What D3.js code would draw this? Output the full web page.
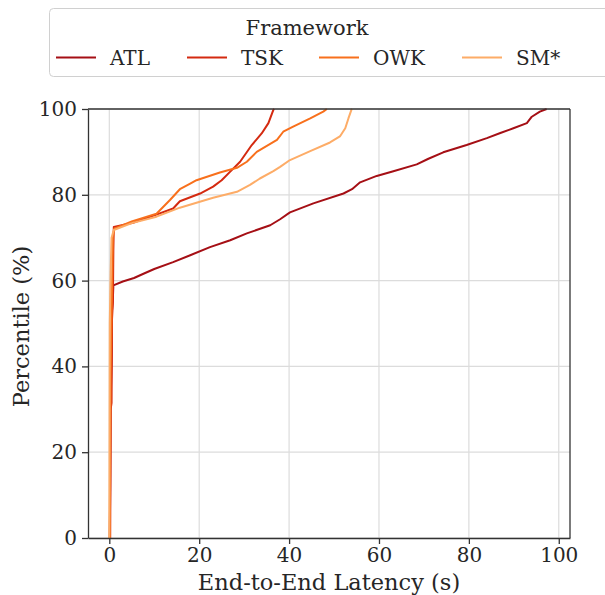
<!DOCTYPE html>
<html>
<head>
<meta charset="utf-8">
<script src="https://cdn.jsdelivr.net/npm/d3@7"></script>
<style>
  body { margin: 0; background: #fff; }
  svg text { font-family: "DejaVu Serif", serif; fill: #262626; }
</style>
</head>
<body>
<div id="chart"></div>
<script>
// frameworks and their colours
const frameworks = ["ATL", "TSK", "OWK", "SM*"];
const colors = ["#a50f15", "#d42a10", "#f8701c", "#fdac67"];

// CDF points: [latency (s), percentile (%)]
const atl = [[0.1,0],[0.2,12],[0.3,31],[0.5,42],[0.6,53],[0.8,56],[0.9,58.9],[3,59.8],[5.5,60.6],[7.6,61.6],[10,62.7],[14.2,64.3],[18,65.9],[22.4,67.8],[26.9,69.4],[30.6,71],[35.8,72.9],[38,74.3],[40.2,75.9],[45.4,78],[52.1,80.3],[54,81.3],[55.8,82.9],[59.5,84.4],[63.2,85.5],[68.4,87.1],[71,88.4],[74.3,89.9],[79.5,91.6],[84,93.2],[87,94.4],[89.9,95.5],[92.9,96.7],[94,98.2],[95.8,99.4],[97.3,100]];
const tsk = [[0.2,0],[0.3,30],[0.5,31.5],[0.6,51],[0.8,55],[0.9,67],[1.0,72.5],[5.3,73.5],[10,75.2],[14.2,76.8],[15.7,78.5],[20.2,80.3],[23.1,81.9],[25,83.4],[26.9,85.4],[29.1,87.7],[30.5,89.8],[31.7,91.6],[33.9,94.3],[35.4,96.7],[36.5,99.8],[36.7,100]];
const owk = [[0.1,0],[0.3,38],[0.6,58],[0.8,70],[1.1,72.1],[5,73.8],[10.5,75.6],[13.5,78.8],[15.7,81.3],[18,82.6],[19.4,83.4],[24.6,85.2],[28.4,86.3],[30.6,87.7],[32.8,90],[37.3,92.8],[38.7,94.7],[40.9,95.9],[44.7,97.8],[47.6,99.4],[48.4,100]];
const sm = [[0,0],[0.1,50],[0.3,62],[0.5,70],[1,71.8],[5,73.4],[10.5,74.9],[15.7,77],[23.1,79.3],[28.4,80.7],[31.3,82.3],[33.5,83.8],[36.5,85.5],[38,86.5],[40.2,88.1],[44.7,90.2],[49.1,92.2],[51.3,93.6],[52.5,95.5],[53.2,97.8],[53.9,99.9],[54,100]];
const seriesData = [atl, tsk, owk, sm];

const xTicks = [0, 20, 40, 60, 80, 100];
const yTicks = [0, 20, 40, 60, 80, 100];

const width = 605, height = 595;
const margin = { top: 109, right: 35, bottom: 57, left: 88 };
const innerW = width - margin.left - margin.right;
const innerH = height - margin.top - margin.bottom;

const svg = d3.select("#chart").append("svg")
    .attr("width", width)
    .attr("height", height);

const g = svg.append("g")
    .attr("transform", `translate(${margin.left},${margin.top})`);

// scales (matplotlib-like 5% padding on x)
const x = d3.scaleLinear().domain([-4.74, 102.5]).range([0, innerW]);
const y = d3.scaleLinear().domain([0, 100]).range([innerH, 0]);

// grid
g.append("g").selectAll("line").data(xTicks).join("line")
    .attr("x1", d => x(d)).attr("x2", d => x(d))
    .attr("y1", 0).attr("y2", innerH)
    .attr("stroke", "#dcdcdc").attr("stroke-width", 1.2);
g.append("g").selectAll("line").data(yTicks).join("line")
    .attr("x1", 0).attr("x2", innerW)
    .attr("y1", d => y(d)).attr("y2", d => y(d))
    .attr("stroke", "#dcdcdc").attr("stroke-width", 1.2);

// curves
const line = d3.line()
    .x(d => x(d[0]))
    .y(d => y(d[1]));

g.append("g").selectAll("path").data(seriesData).join("path")
    .attr("d", line)
    .attr("fill", "none")
    .attr("stroke", (d, i) => colors[i])
    .attr("stroke-width", 2)
    .attr("stroke-linejoin", "round");

// axes
const xAxis = g.append("g")
    .attr("transform", `translate(0,${innerH})`)
    .call(d3.axisBottom(x).tickValues(xTicks).tickSize(6).tickPadding(4).tickSizeOuter(0));
const yAxis = g.append("g")
    .call(d3.axisLeft(y).tickValues(yTicks).tickSize(6).tickPadding(5).tickSizeOuter(0));

[xAxis, yAxis].forEach(ax => {
    ax.select(".domain").attr("stroke", "#333").attr("stroke-width", 1.3);
    ax.selectAll(".tick line").attr("stroke", "#333").attr("stroke-width", 1.3);
    ax.selectAll(".tick text")
        .style("font-family", "DejaVu Serif")
        .style("font-size", "20px")
        .attr("fill", "#262626");
});

// top & right spines
g.append("line").attr("x1", 0).attr("x2", innerW).attr("y1", 0).attr("y2", 0)
    .attr("stroke", "#333").attr("stroke-width", 1.3);
g.append("line").attr("x1", innerW).attr("x2", innerW).attr("y1", 0).attr("y2", innerH)
    .attr("stroke", "#333").attr("stroke-width", 1.3);

// axis labels
svg.append("text")
    .attr("x", margin.left + innerW / 2)
    .attr("y", 590)
    .attr("text-anchor", "middle")
    .style("font-size", "22.5px")
    .text("End-to-End Latency (s)");

svg.append("text")
    .attr("transform", `translate(29,${margin.top + innerH / 2 + 3}) rotate(-90)`)
    .attr("text-anchor", "middle")
    .style("font-size", "22.5px")
    .text("Percentile (%)");

// legend
const legend = svg.append("g");
legend.append("rect")
    .attr("x", 49.5).attr("y", 8.5)
    .attr("width", 570).attr("height", 68)
    .attr("rx", 4)
    .attr("fill", "#fff")
    .attr("stroke", "#d0d0d0");
legend.append("text")
    .attr("x", 307).attr("y", 35)
    .attr("text-anchor", "middle")
    .style("font-size", "21px")
    .text("Framework");

const legendX = [56, 187, 319, 462];
frameworks.forEach((f, i) => {
    legend.append("line")
        .attr("x1", legendX[i]).attr("x2", legendX[i] + 40)
        .attr("y1", 57.5).attr("y2", 57.5)
        .attr("stroke", colors[i]).attr("stroke-width", 2);
    legend.append("text")
        .attr("x", legendX[i] + 54).attr("y", 65)
        .style("font-size", "20px")
        .text(f);
});
</script>
</body>
</html>
